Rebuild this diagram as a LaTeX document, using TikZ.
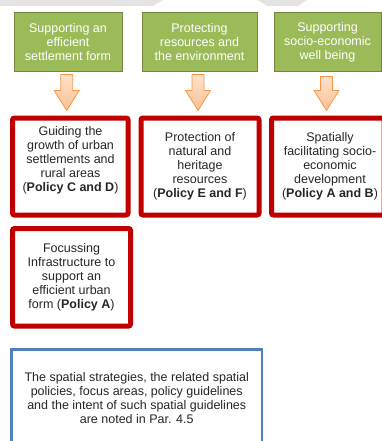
\documentclass[tikz,border=0pt]{standalone}
\usepackage{amsmath}
\usepackage{fontspec}
\setmainfont{Liberation Sans}
\usetikzlibrary{calc}

\definecolor{boxgreen}{HTML}{9BBB59}
\definecolor{boxgreendark}{HTML}{71893F}
\definecolor{boxred}{HTML}{C00000}
\definecolor{boxblue}{HTML}{4F81BD}
\definecolor{arrowfill}{HTML}{FAC090}
\definecolor{arrowline}{HTML}{F79646}
\definecolor{bandgray}{HTML}{E4E4E4}
\definecolor{textgray}{HTML}{262626}

% fat arrow: #1 start, #2 end (only its y is used)
\newcommand{\fatarrow}[2]{%
	\draw[fatarrowstyle] let \p1=(#1), \p2=(#2) in
		(\x1-6pt,\y1) -- (\x1+6pt,\y1) -- (\x1+6pt,\y2+20pt) -- (\x1+12.5pt,\y2+20pt)
		-- (\x1,\y2) -- (\x1-12.5pt,\y2+20pt) -- (\x1-6pt,\y2+20pt) -- cycle;}

\begin{document}
\begin{tikzpicture}[x=1pt,y=-1pt]
			\tikzstyle{every node}+=[inner sep=0pt,font=\fontsize{12.5}{14}\selectfont]
			\tikzstyle{goalbox}=[draw=boxgreendark,line width=1pt,fill=boxgreen,text=white,align=center,minimum height=59pt]
			\tikzstyle{policybox}=[draw=boxred,line width=5pt,rounded corners=2pt,minimum height=97pt]
			\tikzstyle{policytext}=[text=textgray,align=center]
			\tikzstyle{notebox}=[draw=boxblue,line width=2.5pt,text=textgray,align=center,minimum height=97.5pt,minimum width=250.5pt]
			\tikzstyle{fatarrowstyle}=[draw=arrowline,line width=0.8pt,top color=arrowfill!45!white,bottom color=arrowfill]
			\useasboundingbox (0,0) rectangle (382,441);
			% grey band at the top
			\fill[bandgray] (0,0) -- (163,0) -- (153,6) -- (0,6) -- cycle;
			\fill[bandgray] (258,0) -- (307,0) -- (298,6) -- (267,6) -- cycle;
			% strategies
			\node[goalbox,minimum width=108pt] (settle) at (68,42.5) {Supporting an\\efficient\\settlement form};
			\node[goalbox,minimum width=115pt] (protect) at (199.5,42.5) {Protecting\\resources and\\the environment};
			\node[goalbox,minimum width=107pt] (socio) at (327.5,42.5) {Supporting\\socio-economic\\well being};
			% policies
			\node[policybox,minimum width=115.5pt] (growth) at (70.25,166.5) {};
			\node[policytext] (growthtext) at (70.5,160.5) {Guiding the\\growth of urban\\settlements and\\rural areas\\(\textbf{Policy C and D})};
			\node[policybox,minimum width=118pt] (natural) at (200,166.5) {};
			\node[policytext] (naturaltext) at (200,166.5) {Protection of\\natural and\\heritage\\resources\\(\textbf{Policy E and F})};
			\node[policybox,minimum width=112.5pt] (develop) at (327.75,166.5) {};
			\node[policytext] (developtext) at (330,166.5) {Spatially\\facilitating socio-\\economic\\development\\(\textbf{Policy A and B})};
			\node[policybox,minimum width=118pt,minimum height=97.5pt] (infra) at (71.5,277.25) {};
			\node[policytext] (infratext) at (71.5,277.5) {Focussing\\Infrastructure to\\support an\\efficient urban\\form (\textbf{Policy A})};
			% note
			\node[notebox] (note) at (136.75,398.25) {The spatial strategies, the related spatial\\policies, focus areas, policy guidelines\\and the intent of such spatial guidelines\\are noted in Par. 4.5};
			% arrows
			\fatarrow{[xshift=-1.3pt,yshift=-2pt]settle.south}{[yshift=5pt]growth.north}
			\fatarrow{[xshift=-1.5pt,yshift=-2pt]protect.south}{[yshift=5pt]natural.north}
			\fatarrow{[xshift=-1pt,yshift=-4pt]socio.south}{[yshift=5pt]develop.north}
		\end{tikzpicture}
\end{document}
